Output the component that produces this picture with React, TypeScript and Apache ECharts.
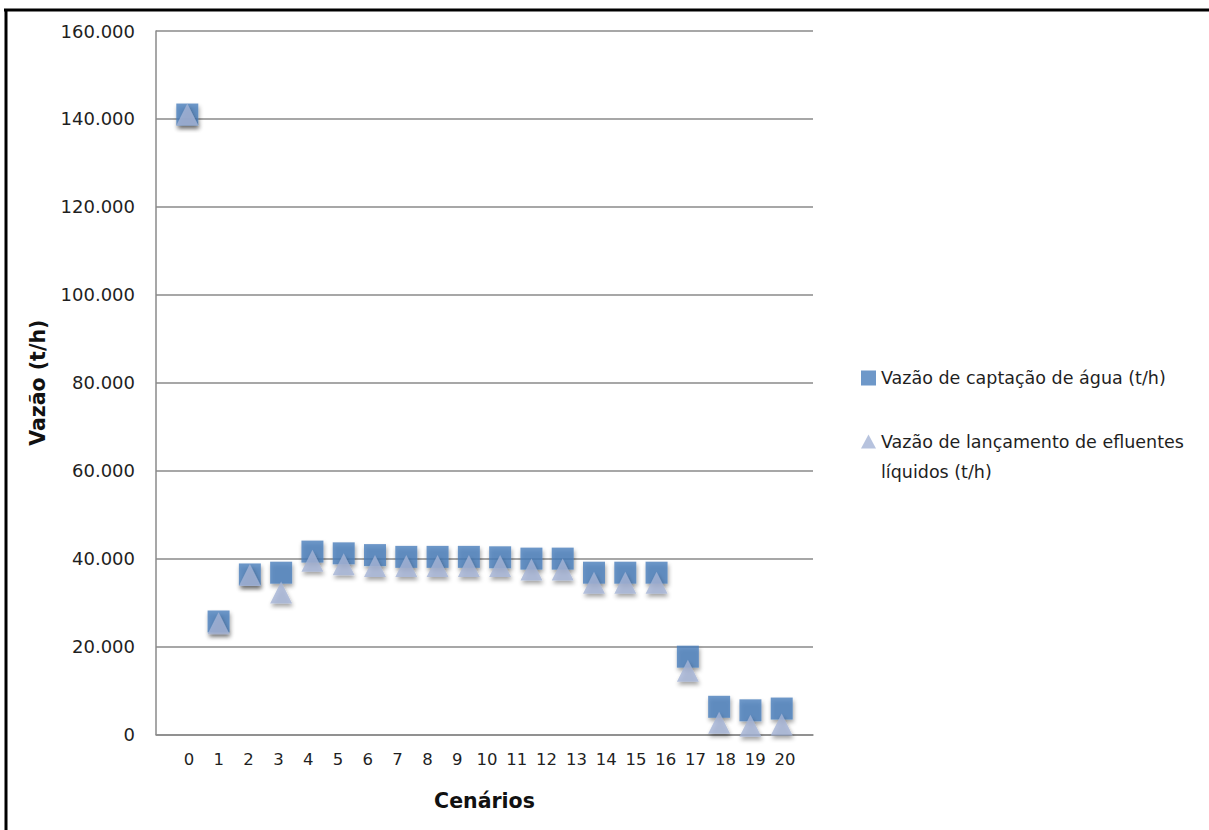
import React, { useEffect, useRef } from "react";
import * as echarts from "echarts";

const scenarioLabels = ["0","1","2","3","4","5","6","7","8","9","10","11","12","13","14","15","16","17","18","19","20"];
const captacao = [141000, 25700, 36400, 36800, 41600, 41200, 40800, 40400, 40400, 40400, 40300, 40000, 40000, 36800, 36800, 36800, 17700, 6300, 5500, 5900];
const lancamento = [141000, 25300, 36300, 32300, 39500, 38700, 38300, 38300, 38300, 38300, 38300, 37500, 37500, 34500, 34500, 34500, 14500, 2700, 2000, 2300];
const seriesNames = ["Vazão de captação de água (t/h)", "Vazão de lançamento de efluentes\nlíquidos (t/h)"];

const FONT = "DejaVu Sans";

function fmt(v: number): string {
  return String(Math.round(v)).replace(/\B(?=(\d{3})+(?!\d))/g, ".");
}

export default function App() {
  const ref = useRef<HTMLDivElement>(null);
  useEffect(() => {
    if (!ref.current) return;
    const chart = echarts.init(ref.current, null, { renderer: "svg" });
    const shadow = {
      shadowBlur: 4,
      shadowOffsetX: 1,
      shadowOffsetY: 3,
      shadowColor: "rgba(0,0,0,0.45)",
    };
    const legendText = { fontFamily: FONT, fontSize: 17.5, color: "#1f1f1f", lineHeight: 30 };
    const noShadow = { shadowBlur: 0, shadowOffsetX: 0, shadowOffsetY: 0, shadowColor: "transparent" };
    chart.setOption({
      animation: false,
      backgroundColor: "#ffffff",
      textStyle: { fontFamily: FONT },
      grid: [
        { left: 156, top: 31, width: 657, height: 703.5, containLabel: false },
        { left: 174.1, top: 31, width: 625.8, height: 703.5, containLabel: false },
      ],
      xAxis: [
        {
          type: "value",
          gridIndex: 0,
          min: -1,
          max: 20,
          interval: 1,
          axisLine: { show: true, onZero: false, lineStyle: { color: "#8a8a8a", width: 1.5 } },
          axisTick: { show: false },
          axisLabel: { show: false },
          splitLine: { show: false },
          name: "Cenários",
          nameLocation: "middle",
          nameGap: 56,
          nameTextStyle: { fontFamily: FONT, fontWeight: "bold", fontSize: 20.5, color: "#111" },
        },
        {
          type: "category",
          gridIndex: 1,
          data: scenarioLabels,
          axisLine: { show: false },
          axisTick: { show: false },
          splitLine: { show: false },
          axisLabel: { fontFamily: FONT, fontSize: 16.5, color: "#1f1f1f", margin: 16, interval: 0 },
        },
      ],
      yAxis: [
        {
          type: "value",
          gridIndex: 0,
          min: 0,
          max: 160000,
          interval: 20000,
          axisLine: { show: true, onZero: false, lineStyle: { color: "#8a8a8a", width: 1.5 } },
          axisTick: { show: false },
          splitLine: { show: true, lineStyle: { color: "#8a8a8a", width: 1.5 } },
          axisLabel: {
            fontFamily: FONT,
            fontSize: 18,
            color: "#1f1f1f",
            margin: 21,
            formatter: (v: number) => fmt(v),
          },
          name: "Vazão (t/h)",
          nameLocation: "middle",
          nameGap: 108,
          nameTextStyle: { fontFamily: FONT, fontWeight: "bold", fontSize: 20.5, color: "#111" },
        },
        {
          type: "value",
          gridIndex: 1,
          show: false,
        },
      ],
      legend: [
        {
          data: [seriesNames[0]],
          orient: "vertical",
          left: 856,
          top: 358,
          itemWidth: 15,
          itemHeight: 15,
          itemStyle: noShadow,
          textStyle: legendText,
        },
        {
          data: [
            {
              name: seriesNames[1],
              icon: "path://M7.5,0L15,14L0,14ZM0,45L0,45",
            },
          ],
          orient: "vertical",
          left: 856,
          top: 422,
          itemWidth: 15,
          itemHeight: 45,
          itemStyle: noShadow,
          textStyle: legendText,
        },
      ],
      graphic: [
        { type: "line", shape: { x1: 4, y1: 10, x2: 1209, y2: 10 }, style: { stroke: "#000", lineWidth: 3 } },
        { type: "line", shape: { x1: 6, y1: 9, x2: 6, y2: 830 }, style: { stroke: "#000", lineWidth: 3 } },
      ],
      series: [
        {
          name: seriesNames[0],
          type: "scatter",
          xAxisIndex: 0,
          yAxisIndex: 0,
          symbol: "rect",
          symbolSize: 22,
          itemStyle: { color: "#4a7ebb", ...shadow },
          data: captacao.map((v, i) => [i, v]),
          z: 2,
        },
        {
          name: seriesNames[1],
          type: "scatter",
          xAxisIndex: 0,
          yAxisIndex: 0,
          symbol: "triangle",
          symbolSize: 22,
          itemStyle: { color: "#a5b4d6", ...shadow },
          data: lancamento.map((v, i) => [i, v]),
          z: 3,
        },
      ],
    });
    return () => chart.dispose();
  }, []);
  return (
    <div
      ref={ref}
      style={{ position: "fixed", left: 0, top: 0, width: 1209, height: 830 }}
    />
  );
}
